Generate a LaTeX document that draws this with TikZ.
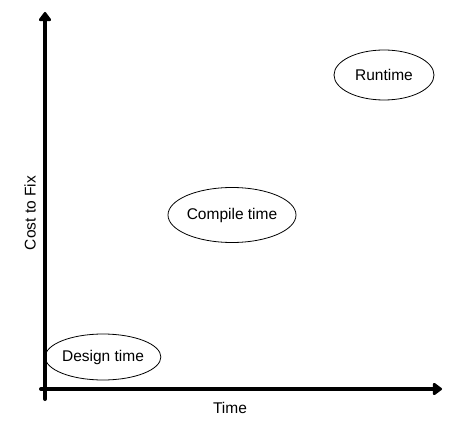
\documentclass[tikz,border=0pt]{standalone}
\usepackage{fontspec}
\setmainfont{Liberation Sans}
\usetikzlibrary{shapes.geometric, arrows.meta, positioning}

\begin{document}
\begin{tikzpicture}[
    x=1pt, y=-1pt,
    phase/.style={ellipse, draw=black, line width=0.8pt, inner sep=0pt, font=\fontsize{15.5}{18}\selectfont},
    axis/.style={-{Triangle[length=10pt,width=14pt,round]}, line width=4pt, line cap=round, draw=black},
    axislabel/.style={font=\fontsize{15.5}{18}\selectfont}
]
\useasboundingbox (0,0) rectangle (460,430);

% axes
\coordinate (ybot) at (45,399);
\coordinate (ytop) at (45,12);
\coordinate (xleft) at (41,389);
\coordinate (xright) at (442,389);
\draw[axis] (ybot) -- (ytop);
\draw[axis] (xleft) -- (xright);

\node[axislabel] (time) at (230,408) {Time};
\node[axislabel, rotate=90] (cost) at (30,213) {Cost to Fix};

% phases
\node[phase, minimum width=100pt, minimum height=50pt] (runtime) at (384,75) {Runtime};
\node[phase, minimum width=128pt, minimum height=55pt] (compile) at (232,215) {Compile time};
\node[phase, minimum width=106pt, minimum height=46pt] (design) at (103,357) {Design time};

\end{tikzpicture}
\end{document}
